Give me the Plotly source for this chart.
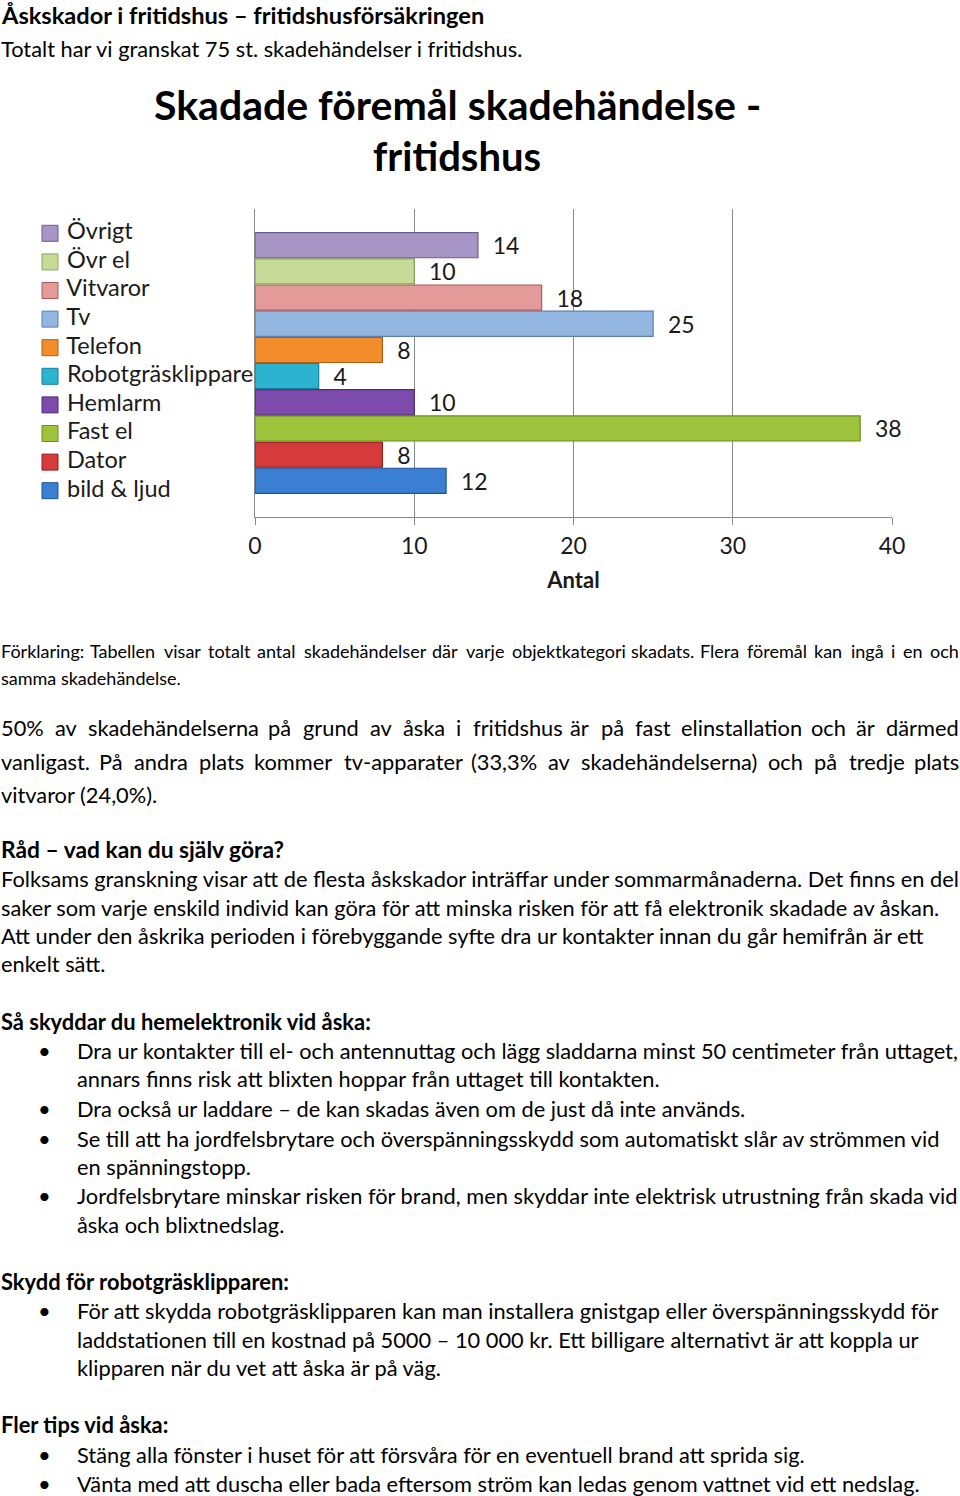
import plotly.graph_objects as go

# ---- data ----
categories = ["bild & ljud", "Dator", "Fast el", "Hemlarm", "Robotgräsklippare",
              "Telefon", "Tv", "Vitvaror", "Övr el", "Övrigt"]
values = [12, 8, 38, 10, 4, 8, 25, 18, 10, 14]
fill_colors = ["#3A7FD2", "#D63A3A", "#9DC43C", "#7D4BAC", "#2BB3CF",
               "#F38C2A", "#93B6E0", "#E59A9A", "#C5DB96", "#A795C6"]
edge_colors = ["#1F5597", "#922020", "#6B8C1E", "#4F2A78", "#15819A",
               "#B45F10", "#5B7FAF", "#A85B5B", "#8AA55A", "#6F5B92"]
x_ticks = [0, 10, 20, 30, 40]
group_label = ["fritidshus"]

W, H = 960, 1496
FONT = "Lato"

fig = go.Figure()
for name, v, fc, ec in zip(categories, values, fill_colors, edge_colors):
    fig.add_trace(go.Bar(
        y=group_label, x=[v], name=name, orientation="h",
        marker=dict(color=fc, line=dict(color=ec, width=1.2)),
        text=[v], texttemplate="  %{x}", textposition="outside",
        textfont=dict(family=FONT, size=23, color="#1a1a1a"),
        constraintext="none", cliponaxis=False, showlegend=False,
    ))

# legend drawn as a marker+text list on its own hidden axes
fig.add_trace(go.Scatter(
    x=[50] * len(categories), y=categories, mode="markers+text",
    xaxis="x2", yaxis="y2",
    marker=dict(symbol="square", size=16, color=fill_colors,
                line=dict(color=edge_colors, width=1)),
    text=categories, texttemplate=" %{text}", textposition="middle right",
    textfont=dict(family=FONT, size=23.5, color="#1a1a1a"),
    cliponaxis=False, showlegend=False, hoverinfo="skip",
))

fig.update_layout(
    template="none",
    width=W, height=H,
    margin=dict(l=0, r=0, t=0, b=0, autoexpand=False),
    paper_bgcolor="white", plot_bgcolor="rgba(0,0,0,0)",
    barmode="group", bargap=0.15, bargroupgap=0.04,
    showlegend=False,
    xaxis=dict(
        domain=[255 / W, 892 / W], range=[0, 40], automargin=False,
        tickvals=x_ticks, ticktext=[str(t) for t in x_ticks],
        showgrid=True, gridcolor="#8a8a8a", gridwidth=1,
        showline=True, linecolor="#8a8a8a", linewidth=1,
        ticks="outside", ticklen=7, tickcolor="#8a8a8a", tickwidth=1,
        tickfont=dict(family=FONT, size=23, color="#1a1a1a"),
        ticklabelstandoff=1,
        zeroline=False,
        title=dict(text="<b>Antal</b>", font=dict(family=FONT, size=22, color="#1a1a1a"),
                   standoff=15),
    ),
    yaxis=dict(
        domain=[1 - 517 / H, 1 - 209 / H], automargin=False,
        showticklabels=False, showgrid=False, ticks="", zeroline=False,
        showline=True, linecolor="#8a8a8a", linewidth=1,
    ),
    xaxis2=dict(domain=[0, 1], range=[0, W], visible=False, anchor="y2"),
    yaxis2=dict(domain=[1 - 505 / H, 1 - 219 / H], range=[-0.5, 9.5],
                type="category", visible=False, anchor="x2"),
)


def txt(s, x, y, size, bold=False, anchor="left"):
    fig.add_annotation(
        text=f"<b>{s}</b>" if bold else s,
        x=x / W, y=1 - y / H, xref="paper", yref="paper",
        xanchor=anchor, yanchor="middle", showarrow=False,
        font=dict(family=FONT, size=size, color="#000"),
    )


# approximate advance widths (em) of Lato regular, used only to spread words
# of justified lines across the text column
_EM = {}
for ch in "ijl": _EM[ch] = 0.23
for ch in "f": _EM[ch] = 0.31
for ch in "t": _EM[ch] = 0.33
for ch in "r": _EM[ch] = 0.35
for ch in ".,:;": _EM[ch] = 0.21
for ch in "()": _EM[ch] = 0.31
for ch in "-": _EM[ch] = 0.33
for ch in "s": _EM[ch] = 0.41
for ch in "cz": _EM[ch] = 0.45
for ch in "vykxg": _EM[ch] = 0.49
for ch in "aåä": _EM[ch] = 0.50
for ch in "e": _EM[ch] = 0.52
for ch in "onuhdbpqöü": _EM[ch] = 0.56
for ch in "m": _EM[ch] = 0.83
for ch in "w": _EM[ch] = 0.76
for ch in "0123456789": _EM[ch] = 0.56
_EM["%"] = 0.80
_EM["F"] = 0.52
_EM["T"] = 0.55
_EM["P"] = 0.58
_EM["V"] = 0.64


def est_width(word, size):
    return sum(_EM.get(c, 0.55) for c in word) * size


def justify(line, y, size, left=-1, right=961):
    words = line.split()
    widths = [est_width(w, size) + 4 for w in words]
    gap = (right - left - sum(widths)) / (len(words) - 1)
    x = left
    for i, (w, wd) in enumerate(zip(words, widths)):
        if i == len(words) - 1:
            txt(w, right, y, size, anchor="right")
        else:
            txt(w, x, y, size)
        x += wd + gap


BODY = 21.8
BOLD = 21.9

# page heading
txt("Åskskador i fritidshus – fritidshusförsäkringen", -1, 15, 23.6, bold=True)
txt("Totalt har vi granskat 75 st. skadehändelser i fritidshus.", -1, 48, 21.8)

# chart title
txt("Skadade föremål skadehändelse -", 457, 104, 41, bold=True, anchor="center")
txt("fritidshus", 457, 156, 40, bold=True, anchor="center")

# explanation
justify("Förklaring: Tabellen visar totalt antal skadehändelser där varje objektkategori skadats. Flera föremål kan ingå i en och", 651, 18)
txt("samma skadehändelse.", -1, 678, 18)

justify("50% av skadehändelserna på grund av åska i fritidshus är på fast elinstallation och är därmed", 728, BODY)
justify("vanligast. På andra plats kommer tv-apparater (33,3% av skadehändelserna) och på tredje plats", 761, BODY)
txt("vitvaror (24,0%).", -1, 794, BODY)

txt("Råd – vad kan du själv göra?", -1, 849, 22.8, bold=True)
txt("Folksams granskning visar att de flesta åskskador inträffar under sommarmånaderna. Det finns en del", -1, 879, BODY)
txt("saker som varje enskild individ kan göra för att minska risken för att få elektronik skadade av åskan.", -1, 907, BODY)
txt("Att under den åskrika perioden i förebyggande syfte dra ur kontakter innan du går hemifrån är ett", -1, 935, BODY)
txt("enkelt sätt.", -1, 963, BODY)

txt("Så skyddar du hemelektronik vid åska:", -1, 1021, BOLD, bold=True)
bullets1 = [
    ("Dra ur kontakter till el- och antennuttag och lägg sladdarna minst 50 centimeter från uttaget,", 1050, True),
    ("annars finns risk att blixten hoppar från uttaget till kontakten.", 1078, False),
    ("Dra också ur laddare – de kan skadas även om de just då inte används.", 1108, True),
    ("Se till att ha jordfelsbrytare och överspänningsskydd som automatiskt slår av strömmen vid", 1138, True),
    ("en spänningstopp.", 1166, False),
    ("Jordfelsbrytare minskar risken för brand, men skyddar inte elektrisk utrustning från skada vid", 1195, True),
    ("åska och blixtnedslag.", 1224, False),
]
txt("Skydd för robotgräsklipparen:", -1, 1281, BOLD, bold=True)
bullets2 = [
    ("För att skydda robotgräsklipparen kan man installera gnistgap eller överspänningsskydd för", 1310, True),
    ("laddstationen till en kostnad på 5000 – 10 000 kr. Ett billigare alternativt är att koppla ur", 1339, False),
    ("klipparen när du vet att åska är på väg.", 1367, False),
]
txt("Fler tips vid åska:", -1, 1424, BOLD, bold=True)
bullets3 = [
    ("Stäng alla fönster i huset för att försvåra för en eventuell brand att sprida sig.", 1454, True),
    ("Vänta med att duscha eller bada eftersom ström kan ledas genom vattnet vid ett nedslag.", 1483, True),
]
for s, y, b in bullets1 + bullets2 + bullets3:
    if b:
        txt("•", 44, y, 22, anchor="center")
    txt(s, 75, y, BODY)

fig.write_html("out.html", config={"displayModeBar": False},
               post_script="document.body.style.margin='0px';document.body.style.overflow='hidden';")
